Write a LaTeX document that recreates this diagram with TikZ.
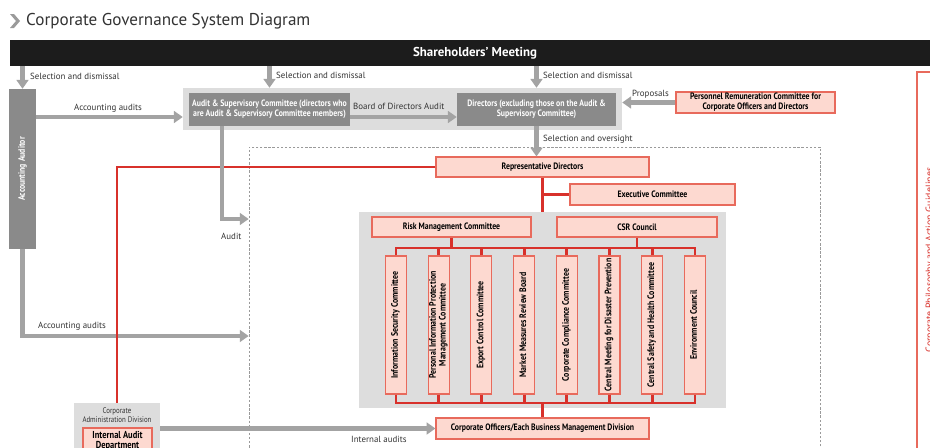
\documentclass[tikz,border=0pt]{standalone}
\usepackage{fontspec}
\setmainfont{PT Sans}
\newfontfamily\condfont[FakeStretch=0.84]{PT Sans}
\usetikzlibrary{arrows.meta, positioning}
\definecolor{barblack}{HTML}{1C1C1C}
\definecolor{boxgray}{HTML}{8A8A8A}
\definecolor{arrowgray}{HTML}{A3A3A3}
\definecolor{panelgray}{HTML}{DDDDDD}
\definecolor{pinkfill}{HTML}{FDD9D0}
\definecolor{pinkline}{HTML}{E86A5C}
\definecolor{redl}{HTML}{D8312B}
\definecolor{textgray}{HTML}{333333}
\definecolor{framegray}{HTML}{9A9A9A}
\newcommand{\boxfont}{\condfont\bfseries\fontsize{7.9pt}{8.4pt}\selectfont}
\newcommand{\vfont}{\condfont\bfseries\fontsize{8pt}{8.4pt}\selectfont}
\newcommand{\lblfont}{\fontsize{7.6pt}{8.4pt}\selectfont}
\newcommand{\smallcond}{\condfont\fontsize{7pt}{7.8pt}\selectfont}

\begin{document}
\begin{tikzpicture}[x=0.03cm, y=-0.03cm,
		gbox/.style={fill=boxgray, text=white, font=\boxfont, align=center, inner sep=0pt},
		pbox/.style={draw=pinkline, fill=pinkfill, line width=0.9pt, font=\boxfont, align=center, inner sep=0pt},
		panel/.style={fill=panelgray, inner sep=0pt},
		garrow/.style={-{Triangle[width=10pt,length=7.5pt]}, line width=4pt, draw=arrowgray},
		redline/.style={draw=redl, line width=2.4pt},
		lbl/.style={font=\lblfont, text=textgray, anchor=west, inner sep=0pt}
	]
		\clip (0,0) rectangle (930,447);
		\fill[white] (0,0) rectangle (930,447);

		% title
		\fill[framegray] (10,14) -- (14,14) -- (20,21) -- (14,28) -- (10,28) -- (16,21) -- cycle;
		\node[anchor=west, inner sep=0pt, text=textgray, font=\fontsize{14.6pt}{16pt}\selectfont] (title) at (26,21) {Corporate Governance System Diagram};

		% shareholders
		\node[fill=barblack, text=white, font=\bfseries\fontsize{11pt}{12pt}\selectfont, minimum width=27.9cm, minimum height=0.78cm, inner sep=0pt] (shm) at (475,53) {Shareholders’ Meeting};

		% panels and frames
		\node[panel, minimum width=13.17cm, minimum height=1.26cm] (panelA) at (402.5,109) {};
		\node[draw=framegray, dashed, dash pattern=on 2pt off 1.5pt, line width=0.6pt, minimum width=17.13cm, minimum height=9.69cm] (execarea) at (534.5,308.5) {};
		\node[panel, minimum width=11.01cm, minimum height=5.88cm] (panelB) at (542.5,310) {};
		\node[panel, minimum width=2.58cm, minimum height=2.01cm] (admin) at (117,436.5) {};
		\draw[pinkline, line width=1pt] (917,72) rectangle (950,470);
		\node[rotate=90, anchor=base, inner sep=0pt, text=redl, font=\fontsize{8.4pt}{9pt}\selectfont] (philo) at (932.5,260) {Corporate Philosophy and Action Guidelines};

		% boxes
		\node[gbox, minimum width=0.81cm, minimum height=4.8cm] (auditor) at (22.5,169) {\rotatebox{90}{Accounting Auditor}};
		\node[gbox, minimum width=4.83cm, minimum height=0.99cm] (asc) at (269.5,109.5) {Audit \& Supervisory Committee (directors who\\are Audit \& Supervisory Committee members)};
		\node[gbox, minimum width=4.77cm, minimum height=0.99cm] (dirs) at (536.5,109.5) {Directors (excluding those on the Audit \&\\Supervisory Committee)};
		\node[pbox, minimum width=4.77cm, minimum height=0.63cm] (remun) at (755.5,102.5) {Personnel Remuneration Committee for\\Corporate Officers and Directors};
		\node[pbox, minimum width=6.39cm, minimum height=0.6cm] (repdir) at (542.5,167) {Representative Directors};
		\node[pbox, minimum width=4.95cm, minimum height=0.63cm] (exec) at (652.5,194.5) {Executive Committee};
		\node[pbox, minimum width=4.77cm, minimum height=0.6cm] (risk) at (451.5,227) {Risk Management Committee};
		\node[pbox, minimum width=4.8cm, minimum height=0.6cm] (csr) at (637,227) {CSR Council};
		\foreach \i/\txt in {1/{Information Security Committee}, 2/{Personal Information Protection\\Management Committee}, 3/{Export Control Committee}, 4/{Market Measures Review Board}, 5/{Corporate Compliance Committee}, 6/{Central Meeting for Disaster Prevention}, 7/{Central Safety and Health Committee}, 8/{Environment Council}}
			\node[pbox, font=\vfont, minimum width=0.63cm, minimum height=4.14cm] (c\i) at ({396+42.7*(\i-1)},325) {\rotatebox{90}{\begin{tabular}{@{}c@{}}\txt\end{tabular}}};
		\node[pbox, minimum width=6.39cm, minimum height=0.63cm] (officers) at (542.5,428.5) {Corporate Officers/Each Business Management Division};
		\node[text=textgray, font=\smallcond, align=center, inner sep=0pt] (admintxt) at (117,415.5) {Corporate\\Administration Division};
		\node[pbox, font=\condfont\bfseries\fontsize{8.6pt}{9pt}\selectfont, minimum width=2.07cm, minimum height=0.78cm] (iad) at (117.5,441) {Internal Audit\\Department};

		% gray arrows
		\draw[garrow] (auditor.north |- shm.south) -- (auditor.north);
		\draw[garrow] (asc.north |- shm.south) -- (asc.north |- panelA.north);
		\draw[garrow] (dirs.north |- shm.south) -- (dirs.north |- panelA.north);
		\draw[garrow] (auditor.east |- 0,117) -- (panelA.west |- 0,117);
		\draw[garrow] (asc.east |- 0,117) -- (dirs.west |- 0,117);
		\draw[garrow] (remun.west) -- (panelA.east |- remun.west);
		\draw[garrow] (dirs.south) -- (dirs.south |- repdir.north);
		\draw[garrow] (auditor.south) |- (execarea.west |- 0,336);
		\draw[garrow] (admin.east |- officers.west) -- (officers.west);

		% red lines
		\coordinate (bustop) at (0,248);
		\coordinate (busbot) at (0,403);
		\draw[redline] (repdir.west) -| (admin.north);
		\draw[redline] (repdir.south) -- (panelB.north);
		\draw[redline] (repdir.south |- exec.west) -- (exec.west);
		\draw[redline] (c1.north) |- (bustop -| c8.north) -- (c8.north);
		\draw[redline] (c1.south) |- (busbot -| c8.south) -- (c8.south);
		\foreach \i in {2,...,7} {
			\draw[redline] (c\i.north) -- (c\i.north |- bustop);
			\draw[redline] (c\i.south) -- (c\i.south |- busbot);
		}
		\draw[redline] (risk.south) -- (risk.south |- bustop);
		\draw[redline] (csr.south) -- (csr.south |- bustop);
		\draw[redline] (officers.north |- busbot) -- (officers.north);

		\draw[garrow] (222,126) |- (execarea.west |- 0,219);

		% labels
		\node[lbl] (l1) at (30,76) {Selection and dismissal};
		\node[lbl] (l2) at (276,75) {Selection and dismissal};
		\node[lbl] (l3) at (543,75) {Selection and dismissal};
		\node[lbl] (l4) at (74,108) {Accounting audits};
		\node[lbl] (l5) at (353,106) {Board of Directors Audit};
		\node[lbl] (l6) at (632,94) {Proposals};
		\node[lbl] (l7) at (543,139) {Selection and oversight};
		\node[lbl] (l8) at (221,236) {Audit};
		\node[lbl] (l9) at (38,326) {Accounting audits};
		\node[lbl] (l10) at (351,439) {Internal audits};
	\end{tikzpicture}
\end{document}
